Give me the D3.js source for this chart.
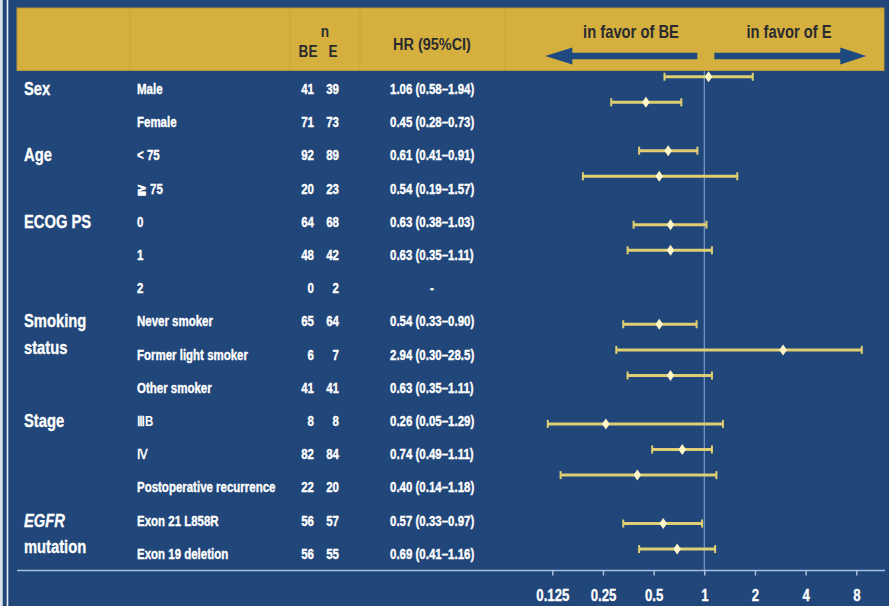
<!DOCTYPE html>
<html>
<head>
<meta charset="utf-8">
<script src="https://cdn.jsdelivr.net/npm/d3@7"></script>
<style>
  html, body { margin: 0; padding: 0; background: #214679; }
  svg { display: block; }
  text { font-family: "Liberation Sans", Arial, Helvetica, sans-serif; font-weight: bold; }
</style>
</head>
<body>
<svg id="chart" width="889" height="606"></svg>
<script>
// Subgroup table: group headings, subgroup labels, patient counts and hazard ratios
const groupLines = [["Sex"], ["Age"], ["ECOG PS"], ["Smoking", "status"], ["Stage"], ["EGFR", "mutation"]];
const subgroups = ["Male", "Female", "< 75", "≧ 75", "0", "1", "2",
  "Never smoker", "Former light smoker", "Other smoker",
  "ⅢB", "Ⅳ", "Postoperative recurrence", "Exon 21 L858R", "Exon 19 deletion"];
const groupOf = [0, 0, 1, 1, 2, 2, 2, 3, 3, 3, 4, 4, 4, 5, 5];
const nBE = [41, 71, 92, 20, 64, 48, 0, 65, 6, 41, 8, 82, 22, 56, 56];
const nE  = [39, 73, 89, 23, 68, 42, 2, 64, 7, 41, 8, 84, 20, 57, 55];
const hr  = [1.06, 0.45, 0.61, 0.54, 0.63, 0.63, null, 0.54, 2.94, 0.63, 0.26, 0.74, 0.40, 0.57, 0.69];
const ciLo = [0.58, 0.28, 0.41, 0.19, 0.38, 0.35, null, 0.33, 0.30, 0.35, 0.05, 0.49, 0.14, 0.33, 0.41];
const ciHi = [1.94, 0.73, 0.91, 1.57, 1.03, 1.11, null, 0.90, 28.5, 1.11, 1.29, 1.11, 1.18, 0.97, 1.16];
const axisTicks = [0.125, 0.25, 0.5, 1, 2, 4, 8];
const tickLabels = ["0.125", "0.25", "0.5", "1", "2", "4", "8"];

const W = 889, H = 606;
const C = {
  bg: "#214679", gold: "#d5b03f", goldLine: "#c39f36", dark: "#2a2b30",
  white: "#ffffff", ci: "#e0cf72", diamond: "#fff6c8", ref: "#7d9bc9", rule: "#a9bfdf",
  arrow: "#1f4a80"
};
const NARROW = 0.82;   // horizontal squeeze for the condensed lettering

const svg = d3.select("#chart");
svg.append("rect").attr("width", W).attr("height", H).attr("fill", C.bg);

// left frame strip
svg.append("rect").attr("x", 0).attr("y", 0).attr("width", 2.7).attr("height", H).attr("fill", "#dde2ea");
svg.append("rect").attr("x", 6.7).attr("y", 0).attr("width", 1.6).attr("height", H).attr("fill", "#e8ecf2");

// condensed text helper
function label(parent, x, y, str, o = {}) {
  const fill = o.fill || C.white;
  return parent.append("text")
    .attr("transform", `translate(${x},${y}) scale(${o.sx || NARROW},1)`)
    .attr("text-anchor", o.anchor || "start")
    .attr("font-size", o.size || 14)
    .attr("font-weight", o.weight || "bold")
    .attr("font-style", o.style || "normal")
    .attr("fill", fill)
    .attr("stroke", o.heavy ? fill : "none")
    .attr("stroke-width", o.heavy || 0)
    .text(str);
}

// x scale for hazard ratios (log base 2)
const x = d3.scaleLog().base(2).domain([0.125, 8]).range([552.3, 856.3]);
const clipMin = x.range()[0] - 4.5, clipMax = x.range()[1] + 5.5;
const xc = v => Math.max(clipMin, Math.min(clipMax, x(v)));

// table row positions
const rowTop = 89, rowStep = 33.2;
const textY = i => rowTop + i * rowStep;

// forest rows: uniform step within a group, wider gap between groups
const plotTop = 76.7, plotStep = 25.6, plotGap = 48.4;
const plotY = [];
subgroups.forEach((s, i) => {
  if (i === 0) plotY.push(plotTop);
  else plotY.push(plotY[i - 1] + (groupOf[i] === groupOf[i - 1] ? plotStep : plotGap));
});

// header band
const head = svg.append("g");
head.append("rect").attr("x", 17).attr("y", 8).attr("width", 867).attr("height", 62.5)
  .attr("fill", C.gold).attr("stroke", "#b8963a").attr("stroke-width", 1);
[130, 290, 360, 505].forEach(d => {
  head.append("line").attr("x1", d).attr("x2", d).attr("y1", 9).attr("y2", 70)
    .attr("stroke", C.goldLine).attr("stroke-width", 1).attr("opacity", 0.6);
});
label(head, 325, 37, "n", { anchor: "middle", size: 16, weight: "normal", fill: C.dark, sx: 0.85 });
label(head, 308, 57, "BE", { anchor: "middle", size: 16, weight: "normal", fill: C.dark, sx: 0.85 });
label(head, 333, 57, "E", { anchor: "middle", size: 16, weight: "normal", fill: C.dark, sx: 0.85 });
label(head, 432, 50, "HR (95%CI)", { anchor: "middle", size: 17, weight: "normal", fill: C.dark, sx: 0.85 });
label(head, 631, 38, "in favor of BE", { anchor: "middle", size: 18, fill: C.dark });
label(head, 789, 38, "in favor of E", { anchor: "middle", size: 18, fill: C.dark });

// direction arrows either side of HR = 1
const x1 = x(1), ay = 56;
head.append("path").attr("fill", C.arrow)
  .attr("d", `M${x1 - 7},${ay - 3.3}L${x1 - 132},${ay - 3.3}L${x1 - 132},${ay - 8.5}L${x1 - 159},${ay}L${x1 - 132},${ay + 8.5}L${x1 - 132},${ay + 3.3}L${x1 - 7},${ay + 3.3}Z`);
head.append("path").attr("fill", C.arrow)
  .attr("d", `M${x1 + 10},${ay - 3.3}L${x1 + 136},${ay - 3.3}L${x1 + 136},${ay - 8.5}L${x1 + 162},${ay}L${x1 + 136},${ay + 8.5}L${x1 + 136},${ay + 3.3}L${x1 + 10},${ay + 3.3}Z`);

// group headings
const groupFirstRow = groupLines.map((g, gi) => groupOf.indexOf(gi));
const gLab = svg.append("g");
groupLines.forEach((lines, gi) => {
  lines.forEach((ln, li) => {
    label(gLab, 24, textY(groupFirstRow[gi]) + 6 + li * 26.5, ln,
      { size: 18, style: ln === "EGFR" ? "italic" : "normal", heavy: 0.3 });
  });
});

// subgroup rows (roman-numeral stage labels come from a fallback font, so no extra stroke)
const rows = svg.append("g");
const fmt = d3.format(".2f");
const fmtCI = v => v >= 10 ? d3.format(".1f")(v) : fmt(v);
const romanRe = /[Ⅰ-Ⅻ]/;
subgroups.forEach((s, i) => {
  const y = textY(i) + 5;
  label(rows, 137, y, s, { size: 14, heavy: romanRe.test(s) ? 0 : 0.35 });
  label(rows, 314, y, nBE[i], { size: 14, anchor: "end", heavy: 0.35 });
  label(rows, 339, y, nE[i], { size: 14, anchor: "end", heavy: 0.35 });
  if (hr[i] == null) label(rows, 432, y, "-", { size: 14, anchor: "middle", heavy: 0.35 });
  else label(rows, 390, y, `${fmt(hr[i])} (${fmtCI(ciLo[i])}–${fmtCI(ciHi[i])})`, { size: 14, heavy: 0.35 });
});

// reference line at HR = 1
svg.append("line").attr("x1", x(1)).attr("x2", x(1)).attr("y1", 71).attr("y2", 570)
  .attr("stroke", C.ref).attr("stroke-width", 1.2);

// axis rule and ticks
svg.append("line").attr("x1", 17).attr("x2", 885).attr("y1", 570.5).attr("y2", 570.5)
  .attr("stroke", C.rule).attr("stroke-width", 1.5);
const axis = svg.append("g").attr("transform", "translate(0,570.5)")
  .call(d3.axisBottom(x).tickValues(axisTicks).tickFormat((d, i) => tickLabels[i]).tickSize(5).tickSizeOuter(0));
axis.select(".domain").remove();
axis.selectAll(".tick line").attr("stroke", C.rule).attr("stroke-width", 1.5);
axis.selectAll(".tick text").attr("fill", C.white).attr("font-size", 16.5)
  .attr("font-family", null).attr("dy", null).attr("y", 31)
  .attr("stroke", C.white).attr("stroke-width", 0.3)
  .attr("transform", "scale(0.8,1)");

// confidence intervals and point estimates
const forest = svg.append("g");
const idx = d3.range(subgroups.length).filter(i => hr[i] != null);
forest.selectAll("line.ci").data(idx).join("line").attr("class", "ci")
  .attr("x1", i => xc(ciLo[i])).attr("x2", i => xc(ciHi[i]))
  .attr("y1", i => plotY[i]).attr("y2", i => plotY[i])
  .attr("stroke", C.ci).attr("stroke-width", 3);
forest.selectAll("line.capl").data(idx).join("line").attr("class", "capl")
  .attr("x1", i => xc(ciLo[i])).attr("x2", i => xc(ciLo[i]))
  .attr("y1", i => plotY[i] - 4).attr("y2", i => plotY[i] + 4)
  .attr("stroke", C.ci).attr("stroke-width", 2);
forest.selectAll("line.caph").data(idx).join("line").attr("class", "caph")
  .attr("x1", i => xc(ciHi[i])).attr("x2", i => xc(ciHi[i]))
  .attr("y1", i => plotY[i] - 4).attr("y2", i => plotY[i] + 4)
  .attr("stroke", C.ci).attr("stroke-width", 2);
forest.selectAll("path.est").data(idx).join("path").attr("class", "est")
  .attr("transform", i => `translate(${x(hr[i])},${plotY[i]})`)
  .attr("d", "M0,-5.5L3.8,0L0,5.5L-3.8,0Z")
  .attr("fill", C.diamond);
</script>
</body>
</html>
